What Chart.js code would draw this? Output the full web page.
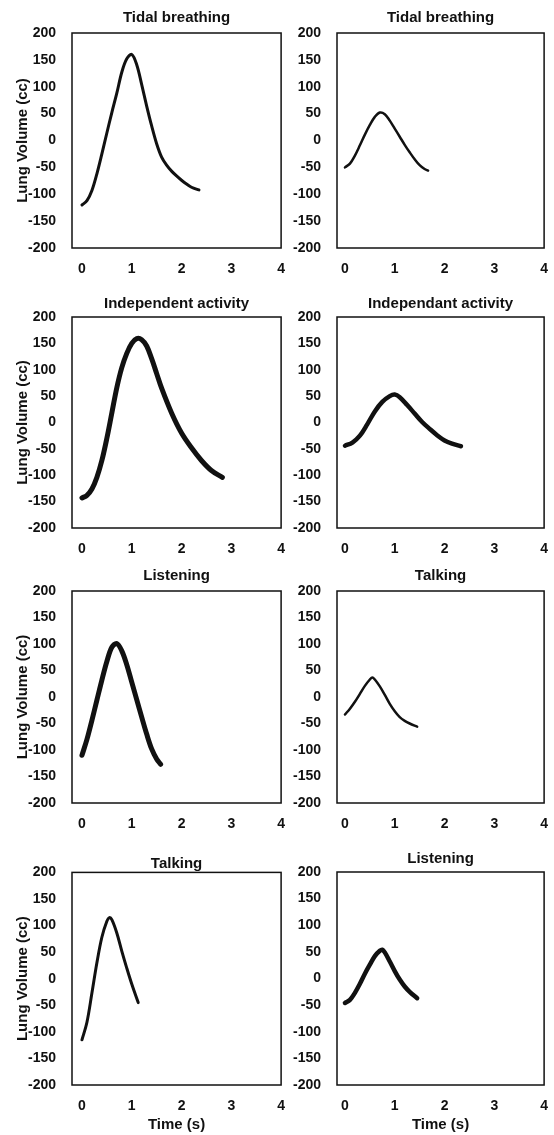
<!DOCTYPE html>
<html>
<head>
<meta charset="utf-8">
<script src="https://cdn.jsdelivr.net/npm/chart.js@4.4.0/dist/chart.umd.min.js"></script>
<style>
  html, body { margin: 0; padding: 0; background: #fff; }
  body { width: 554px; height: 1135px; position: relative; overflow: hidden; }
  canvas { position: absolute; }
</style>
</head>
<body>
<script>
const titles = ['Tidal breathing', 'Tidal breathing', 'Independent activity', 'Independant activity',
                'Listening', 'Talking', 'Talking', 'Listening'];
const xTicks = [0, 1, 2, 3, 4];
const yTicks = [-200, -150, -100, -50, 0, 50, 100, 150, 200];

// time (s) and lung volume (cc), one pair per panel
const t1 = [0, 0.1, 0.2, 0.3, 0.4, 0.5, 0.6, 0.7, 0.8, 0.9, 1.0, 1.1, 1.2, 1.3, 1.4, 1.5, 1.6, 1.7, 1.8, 1.9, 2.0, 2.1, 2.2, 2.35];
const v1 = [-120, -112, -93, -62, -25, 14, 52, 88, 127, 152, 160, 141, 104, 64, 27, -6, -31, -46, -57, -66, -74, -81, -87, -92];
const t2 = [0, 0.1, 0.2, 0.3, 0.4, 0.5, 0.6, 0.7, 0.8, 0.9, 1.0, 1.1, 1.2, 1.3, 1.4, 1.5, 1.6, 1.67];
const v2 = [-50, -43, -28, -9, 11, 29, 44, 52, 49, 37, 22, 7, -8, -22, -35, -46, -53, -56];
const t3 = [0, 0.1, 0.2, 0.3, 0.4, 0.5, 0.6, 0.7, 0.8, 0.9, 1.0, 1.1, 1.2, 1.3, 1.4, 1.5, 1.6, 1.8, 2.0, 2.2, 2.4, 2.6, 2.82];
const v3 = [-143, -138, -126, -104, -72, -30, 18, 66, 104, 131, 150, 159, 157, 145, 121, 93, 65, 18, -20, -48, -72, -91, -104];
const t4 = [0, 0.15, 0.3, 0.45, 0.6, 0.75, 0.9, 1.0, 1.1, 1.25, 1.4, 1.55, 1.7, 1.85, 2.0, 2.15, 2.33];
const v4 = [-44, -38, -25, -3, 21, 39, 50, 53, 48, 33, 17, 1, -12, -24, -34, -40, -45];
const t5 = [0, 0.1, 0.2, 0.3, 0.4, 0.5, 0.6, 0.7, 0.8, 0.9, 1.0, 1.1, 1.2, 1.3, 1.4, 1.5, 1.58];
const v5 = [-110, -80, -44, -6, 32, 67, 94, 101, 87, 61, 28, -5, -38, -70, -98, -117, -127];
const t6 = [0, 0.1, 0.2, 0.3, 0.4, 0.5, 0.55, 0.6, 0.7, 0.8, 0.9, 1.0, 1.1, 1.2, 1.3, 1.45];
const v6 = [-33, -22, -9, 6, 21, 33, 37, 33, 20, 4, -13, -27, -38, -45, -50, -56];
const t7 = [0, 0.1, 0.2, 0.3, 0.4, 0.5, 0.55, 0.6, 0.7, 0.8, 0.9, 1.0, 1.13];
const v7 = [-115, -82, -27, 30, 78, 108, 115, 111, 86, 52, 20, -10, -45];
const t8 = [0, 0.1, 0.2, 0.3, 0.4, 0.5, 0.6, 0.7, 0.75, 0.8, 0.9, 1.0, 1.1, 1.2, 1.3, 1.45];
const v8 = [-46, -40, -27, -10, 9, 26, 42, 52, 54, 49, 32, 14, -2, -15, -25, -37];

const times = [t1, t2, t3, t4, t5, t6, t7, t8];
const volumes = [v1, v2, v3, v4, v5, v6, v7, v8];

// layout / style
const lineWidths = [3, 2.5, 5, 4.5, 5, 2.5, 3, 4.5];
const titleGaps = [8, 8, 6, 6, 8, 8, 1, 6];
const cols = [
  { left: 72, width: 210, xMin: -0.2, axisW: 72 },
  { left: 337, width: 208, xMin: -0.16, axisW: 50 }
];
const rows = [
  { top: 33, height: 215 },
  { top: 317, height: 211 },
  { top: 591, height: 212 },
  { top: 872, height: 213 }
];

Chart.defaults.font.family = '"Liberation Sans", Arial, sans-serif';
Chart.defaults.color = '#111';

const framePlugin = {
  id: 'frame',
  beforeDatasetsDraw(chart) {
    const { ctx, chartArea: a } = chart;
    ctx.save();
    ctx.strokeStyle = '#111';
    ctx.lineWidth = 1.5;
    ctx.strokeRect(a.left, a.top, a.right - a.left, a.bottom - a.top);
    ctx.restore();
  }
};

function makePanel(i) {
  const col = cols[i % 2];
  const row = rows[Math.floor(i / 2)];
  const isLeft = i % 2 === 0;
  const isBottom = i >= 6;
  const gap = titleGaps[i];
  const titleH = 15 + gap;
  const xH = isBottom ? 50 : 28;
  const w = col.axisW + col.width + 8;
  const h = titleH + row.height + xH;

  const c = document.createElement('canvas');
  c.width = w; c.height = h;
  c.style.left = (col.left - col.axisW) + 'px';
  c.style.top = (row.top - titleH) + 'px';
  c.style.width = w + 'px';
  c.style.height = h + 'px';
  document.body.appendChild(c);

  const pts = times[i].map((x, k) => ({ x: x, y: volumes[i][k] }));

  new Chart(c, {
    type: 'line',
    data: {
      datasets: [{
        data: pts,
        borderColor: '#111',
        borderWidth: lineWidths[i],
        pointRadius: 0,
        tension: 0.35,
        borderCapStyle: 'round',
        borderJoinStyle: 'round',
        fill: false
      }]
    },
    options: {
      responsive: false,
      animation: false,
      layout: { padding: { left: 0, right: 8, top: 0, bottom: 0 } },
      plugins: {
        legend: { display: false },
        tooltip: { enabled: false },
        title: {
          display: true,
          text: titles[i],
          fullSize: false,
          color: '#111',
          font: { size: 15, weight: 'bold', lineHeight: 1 },
          padding: { top: 0, bottom: gap }
        }
      },
      scales: {
        x: {
          type: 'linear',
          min: col.xMin,
          max: 4,
          afterBuildTicks: s => { s.ticks = xTicks.map(v => ({ value: v })); },
          afterFit: s => { s.height = xH; },
          grid: { display: false },
          border: { display: false },
          ticks: { padding: 5, font: { size: 14, weight: 'bold' } },
          title: {
            display: isBottom,
            text: 'Time (s)',
            font: { size: 15, weight: 'bold' },
            padding: { top: 0, bottom: 1 }
          }
        },
        y: {
          min: -200,
          max: 200,
          afterBuildTicks: s => { s.ticks = yTicks.map(v => ({ value: v })); },
          afterFit: s => { s.width = col.axisW; },
          grid: { display: false },
          border: { display: false },
          ticks: { padding: 8, font: { size: 14, weight: 'bold' } },
          title: {
            display: isLeft,
            text: 'Lung Volume (cc)',
            font: { size: 15, weight: 'bold' },
            padding: { top: 14, bottom: 0 }
          }
        }
      }
    },
    plugins: [framePlugin]
  });
}

for (let i = 0; i < 8; i++) makePanel(i);
</script>
</body>
</html>
